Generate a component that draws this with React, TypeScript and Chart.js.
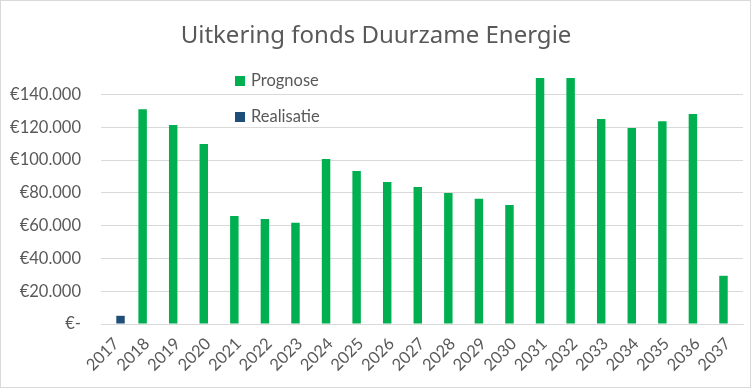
import React, { useEffect, useRef } from "react";
import { Chart, registerables } from "chart.js";

Chart.register(...registerables);

const TITLE = "Uitkering fonds Duurzame Energie";
const YEARS = [
  "2017", "2018", "2019", "2020", "2021", "2022", "2023", "2024", "2025", "2026", "2027",
  "2028", "2029", "2030", "2031", "2032", "2033", "2034", "2035", "2036", "2037",
];
const PROGNOSE_LABEL = "Prognose";
const REALISATIE_LABEL = "Realisatie";
const PROGNOSE: (number | null)[] = [
  null, 131000, 121300, 109700, 65900, 64100, 61700, 100600, 93300, 86600, 83600,
  79900, 76300, 72600, 150000, 150000, 125000, 119500, 123700, 128000, 29400,
];
const REALISATIE: (number | null)[] = [
  5000, null, null, null, null, null, null, null, null, null, null,
  null, null, null, null, null, null, null, null, null, null,
];
const Y_MIN = 0;
const Y_MAX = 150000;
const Y_TICKS = [0, 20000, 40000, 60000, 80000, 100000, 120000, 140000];

const GREEN = "#00B050";
const BLUE = "#1F4E79";
const TEXT = "#595959";
const GRID = "#D9D9D9";
const FONT = "Lato, 'Noto Sans', sans-serif";
const TITLE_FONT = "'Noto Sans', Lato, sans-serif";

function euro(v: number): string {
  if (v === 0) return "€-";
  return "€" + String(Math.round(v)).replace(/\B(?=(\d{3})+(?!\d))/g, ".");
}

const decorPlugin = {
  id: "decor",
  beforeDraw(chart: any) {
    const ctx = chart.ctx;
    ctx.save();
    ctx.fillStyle = "#FFFFFF";
    ctx.fillRect(0, 0, chart.width, chart.height);
    ctx.strokeStyle = GRID;
    ctx.lineWidth = 1;
    ctx.strokeRect(0.5, 0.5, chart.width - 2, chart.height - 2);
    ctx.restore();
  },
  afterDraw(chart: any) {
    const ctx = chart.ctx;
    ctx.save();
    // title
    ctx.fillStyle = TEXT;
    ctx.font = `24px ${TITLE_FONT}`;
    ctx.textAlign = "center";
    ctx.textBaseline = "alphabetic";
    ctx.fillText(TITLE, 376, 43);
    // legend
    ctx.font = `16.5px ${FONT}`;
    ctx.textAlign = "left";
    const items = chart.data.datasets;
    const rows = [86, 122];
    items.forEach((ds: any, i: number) => {
      const base = rows[i];
      ctx.fillStyle = ds.backgroundColor;
      ctx.fillRect(235, base - 10, 10, 10);
      ctx.fillStyle = TEXT;
      ctx.fillText(ds.label, 251, base);
    });
    ctx.restore();
  },
};

export default function App() {
  const ref = useRef<HTMLCanvasElement | null>(null);

  useEffect(() => {
    if (!ref.current) return;
    const chart = new Chart(ref.current, {
      type: "bar",
      data: {
        labels: YEARS,
        datasets: [
          {
            label: PROGNOSE_LABEL,
            data: PROGNOSE,
            backgroundColor: GREEN,
            categoryPercentage: 0.554,
            barPercentage: 1,
          },
          {
            label: REALISATIE_LABEL,
            data: REALISATIE,
            backgroundColor: BLUE,
            categoryPercentage: 0.554,
            barPercentage: 1,
          },
        ],
      },
      options: {
        responsive: false,
        animation: false,
        layout: { padding: { top: 78, right: 9, left: 0, bottom: 0 } },
        plugins: {
          legend: { display: false },
          title: { display: false },
          tooltip: { enabled: false },
        },
        scales: {
          x: {
            grid: { display: false },
            border: { display: true, color: GRID, width: 1 },
            ticks: {
              color: TEXT,
              font: { family: FONT, size: 16.5 },
              maxRotation: 45,
              minRotation: 45,
              autoSkip: false,
              padding: 2,
            },
            afterFit(scale: any) {
              scale.height = 65;
            },
          },
          y: {
            min: Y_MIN,
            max: Y_MAX,
            border: { display: false },
            grid: { color: GRID, lineWidth: 1, drawTicks: false },
            ticks: {
              color: TEXT,
              font: { family: FONT, size: 16.5 },
              padding: 20,
              callback: (v: any) => euro(Number(v)),
            },
            afterBuildTicks(scale: any) {
              scale.ticks = Y_TICKS.map((value) => ({ value }));
            },
            afterFit(scale: any) {
              scale.width = 101;
            },
          },
        },
      },
      plugins: [decorPlugin],
    } as any);
    return () => chart.destroy();
  }, []);

  return (
    <div style={{ position: "fixed", left: 0, top: 0, width: 752, height: 389, background: "#fff" }}>
      <canvas ref={ref} width={752} height={389} style={{ display: "block", width: 752, height: 389 }} />
    </div>
  );
}
